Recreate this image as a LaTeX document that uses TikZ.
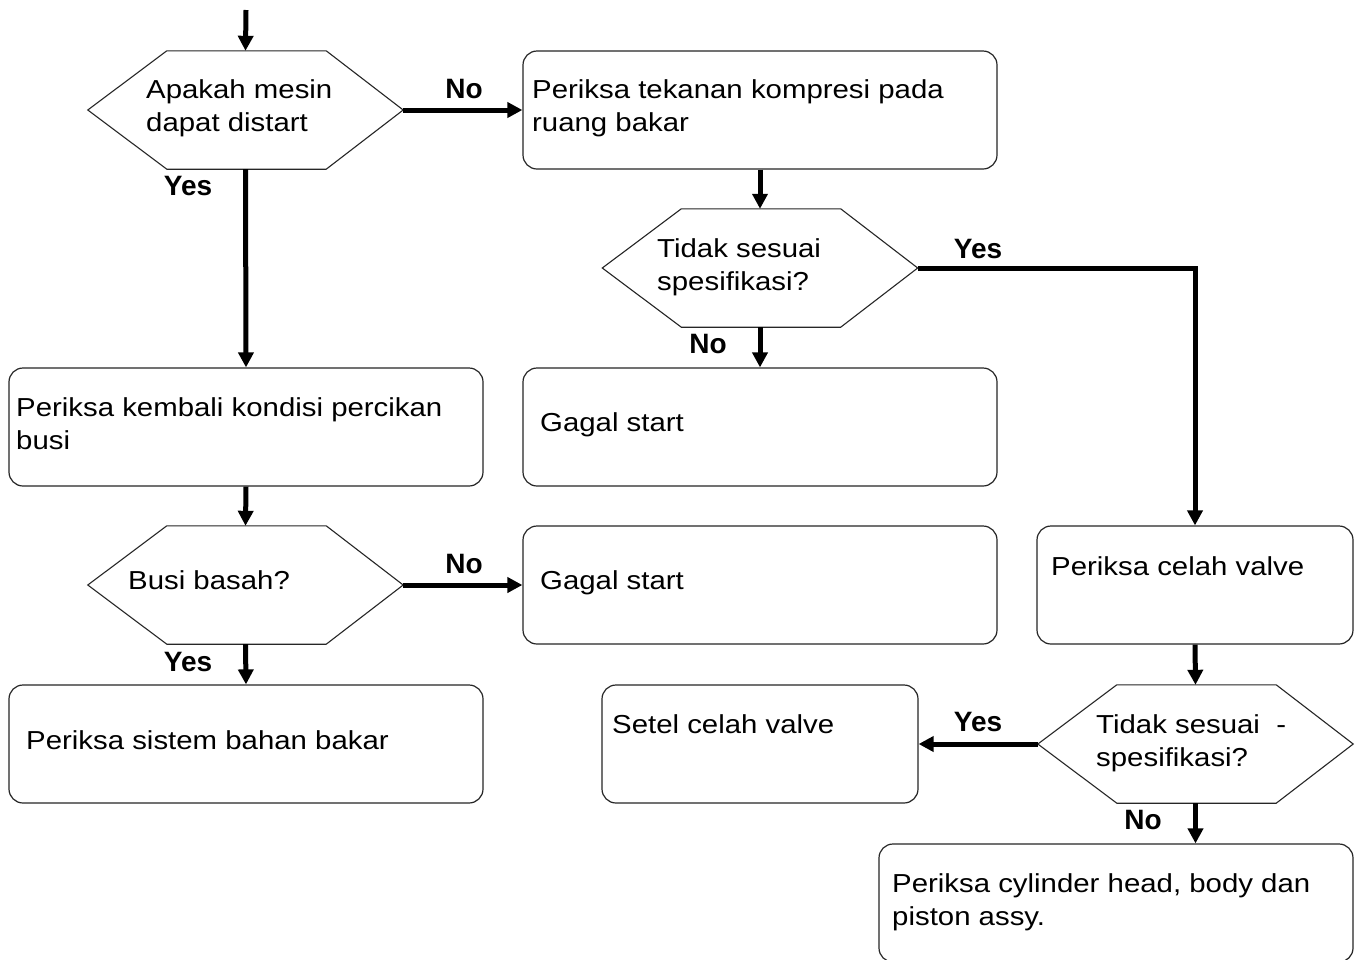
\documentclass[tikz,border=0pt]{standalone}
\usepackage{fontspec}
\setmainfont[FakeStretch=1.13]{Liberation Sans}
\newfontfamily\lblfont{Liberation Sans}
\usetikzlibrary{arrows.meta,calc}
\begin{document}
\begin{tikzpicture}[x=1pt,y=-1pt,
  box/.style={draw=black!85,line width=1.2pt,rounded corners=14pt,minimum width=474pt,minimum height=118pt,inner sep=0pt},
  sbox/.style={box,minimum width=316pt},
  hexbb/.style={draw=none,minimum width=315pt,minimum height=118pt,inner sep=0pt},
  hexline/.style={draw=black!85,line width=1.1pt},
  txt/.style={anchor=base west,inner sep=0pt,font=\fontsize{26}{33}\selectfont},
  lbl/.style={anchor=base,inner sep=0pt,font=\lblfont\fontsize{28}{32}\selectfont\bfseries},
  conn/.style={line width=5pt,-{Triangle[length=15pt,width=15pt]}}]
\useasboundingbox (0,0) rectangle (1364,959);
\clip (0,0) rectangle (1364,959);
\fill[white] (0,0) rectangle (1364,959);

% hexagon placeholders
\node[hexbb] (h1) at (245.5,110) {};
\node[hexbb] (h2) at (760,268) {};
\node[hexbb] (h3) at (245.5,585) {};
\node[hexbb] (h4) at (1195.5,744) {};
\foreach \h in {h1,h2,h3,h4}{
  \draw[hexline] (\h.west) -- ($(\h.north west)+(79,0)$) -- ($(\h.north east)+(-77,0)$) -- (\h.east)
    -- ($(\h.south east)+(-77,0)$) -- ($(\h.south west)+(79,0)$) -- cycle;
}

% boxes
\node[box] (b1) at (760,110) {};
\node[box] (g1) at (760,427) {};
\node[box] (k) at (246,427) {};
\node[box] (g2) at (760,585) {};
\node[sbox] (cv) at (1195,585) {};
\node[box] (sb) at (246,744) {};
\node[sbox] (st) at (760,744) {};
\node[box] (ch) at (1116,903) {};
\coordinate (start) at (246,10);

% texts
\node[txt] (t1a) at (146,98) {Apakah mesin};
\node[txt] (t1b) at (146,131) {dapat distart};
\node[txt] (t2a) at (532,98) {Periksa tekanan kompresi pada};
\node[txt] (t2b) at (532,131) {ruang bakar};
\node[txt] (t3a) at (657,257) {Tidak sesuai};
\node[txt] (t3b) at (657,290) {spesifikasi?};
\node[txt] (t4) at (540,431) {Gagal start};
\node[txt] (t5a) at (16,416) {Periksa kembali kondisi percikan};
\node[txt] (t5b) at (16,449) {busi};
\node[txt] (t6) at (128,589) {Busi basah?};
\node[txt] (t7) at (540,589) {Gagal start};
\node[txt] (t8) at (1051,575) {Periksa celah valve};
\node[txt] (t9) at (26,749) {Periksa sistem bahan bakar};
\node[txt] (t10) at (612,733) {Setel celah valve};
\node[txt] (t11a) at (1096,733) {Tidak sesuai\ \ -};
\node[txt] (t11b) at (1096,766) {spesifikasi?};
\node[txt] (t12a) at (892,892) {Periksa cylinder head, body dan};
\node[txt] (t12b) at (892,925) {piston assy.};

% labels
\node[lbl] (l1) at (464,98) {No};
\node[lbl] (l2) at (188,195) {Yes};
\node[lbl] (l3) at (978,258) {Yes};
\node[lbl] (l4) at (708,353) {No};
\node[lbl] (l5) at (464,573) {No};
\node[lbl] (l6) at (188,671) {Yes};
\node[lbl] (l7) at (978,731) {Yes};
\node[lbl] (l8) at (1143,829) {No};

% connectors
\draw[conn] (start) -- (h1.north);
\draw[conn] (h1.east) -- (b1.west);
\draw[conn] (h1.south) -- (k.north);
\draw[conn] (b1.south) -- (h2.north);
\draw[conn] (h2.east) -| (cv.north);
\draw[conn] (h2.south) -- (g1.north);
\draw[conn] (k.south) -- (h3.north);
\draw[conn] (h3.east) -- (g2.west);
\draw[conn] (h3.south) -- (sb.north);
\draw[conn] (cv.south) -- (h4.north);
\draw[conn] (h4.west) -- (st.east);
\draw[conn] (h4.south) -- (h4.south |- ch.north);
\end{tikzpicture}
\end{document}
